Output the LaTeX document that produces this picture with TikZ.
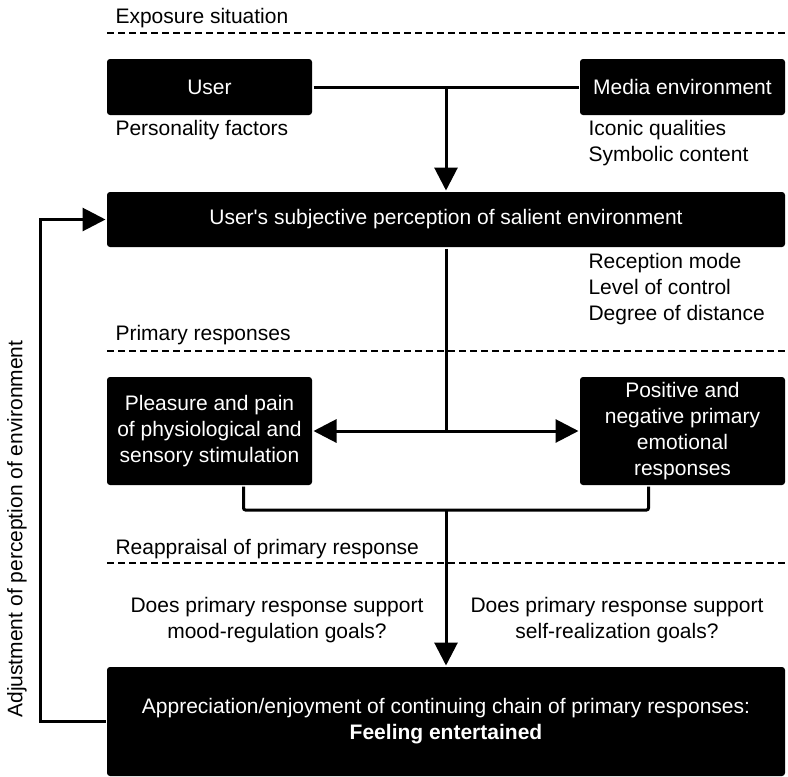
\documentclass[tikz,border=0pt]{standalone}
\usepackage{fontspec}
\setmainfont{Liberation Sans}
\usetikzlibrary{arrows.meta,positioning}

\begin{document}
\begin{tikzpicture}[x=1pt, y=-1pt, line width=3pt,
    every node/.style={font=\fontsize{21}{26}\selectfont, inner sep=0pt},
    box/.style={fill=black, text=white, rounded corners=3pt, align=center},
    note/.style={anchor=west, align=left},
    sep/.style={line width=1.3pt, dash pattern=on 7pt off 4pt},
    arr/.style={-{Triangle[length=23pt,width=23pt]}},
    biarr/.style={{Triangle[length=23pt,width=23pt]}-{Triangle[length=23pt,width=23pt]}}]
    \useasboundingbox (0,0) rectangle (788,777);
    % stage separators
    \node[note] (exp) at (114,18) {Exposure situation};
    \draw[sep] (107,33) -- (788,33);
    \node[note] (prim) at (114,335) {Primary responses};
    \draw[sep] (107,351) -- (788,351);
    \node[note] (reap) at (114,549) {Reappraisal of primary response};
    \draw[sep] (107,563) -- (788,563);
    % boxes
    \node[box, minimum width=205pt, minimum height=56pt] (user) at (209.5,87) {User};
    \node[box, minimum width=205pt, minimum height=56pt] (media) at (682.5,87) {Media environment};
    \node[box, minimum width=678pt, minimum height=55pt] (perc) at (446,219.5) {User\textquotesingle s subjective perception of salient environment};
    \node[box, minimum width=205pt, minimum height=108pt] (pleas) at (209.5,431) {Pleasure and pain\\of physiological and\\sensory stimulation};
    \node[box, minimum width=205pt, minimum height=108pt] (pos) at (682.5,431) {Positive and\\negative primary\\emotional\\responses};
    \node[box, minimum width=678pt, minimum height=109pt] (final) at (446,721.5) {Appreciation/enjoyment of continuing chain of primary responses:\\\textbf{Feeling entertained}};
    % side notes
    \node[note] (pers) at (114,130) {Personality factors};
    \node[note] (icon) at (587,143) {Iconic qualities\\Symbolic content};
    \node[note] (recep) at (587,289) {Reception mode\\Level of control\\Degree of distance};
    \node[align=center] (qmood) at (277,620) {Does primary response support\\mood-regulation goals?};
    \node[align=center] (qself) at (617,620) {Does primary response support\\self-realization goals?};
    \node[rotate=90] (adj) at (17,529) {Adjustment of perception of environment};
    % connectors
    \coordinate (merge) at (446,510);
    \coordinate (fb) at (40,0);
    \draw (user) -- (media);
    \draw[arr] (user.east -| perc.north) -- (perc.north);
    \draw (perc.south) -- (perc.south |- pleas.east);
    \draw[biarr] (pleas) -- (pos);
    \draw[rounded corners=2pt] ([xshift=34pt]pleas.south) |- (merge) -| ([xshift=-34pt]pos.south);
    \draw[arr] (merge) -- (final.north);
    \draw[arr] (final.west) -| (fb |- perc.west) -- (perc.west);
\end{tikzpicture}
\end{document}
